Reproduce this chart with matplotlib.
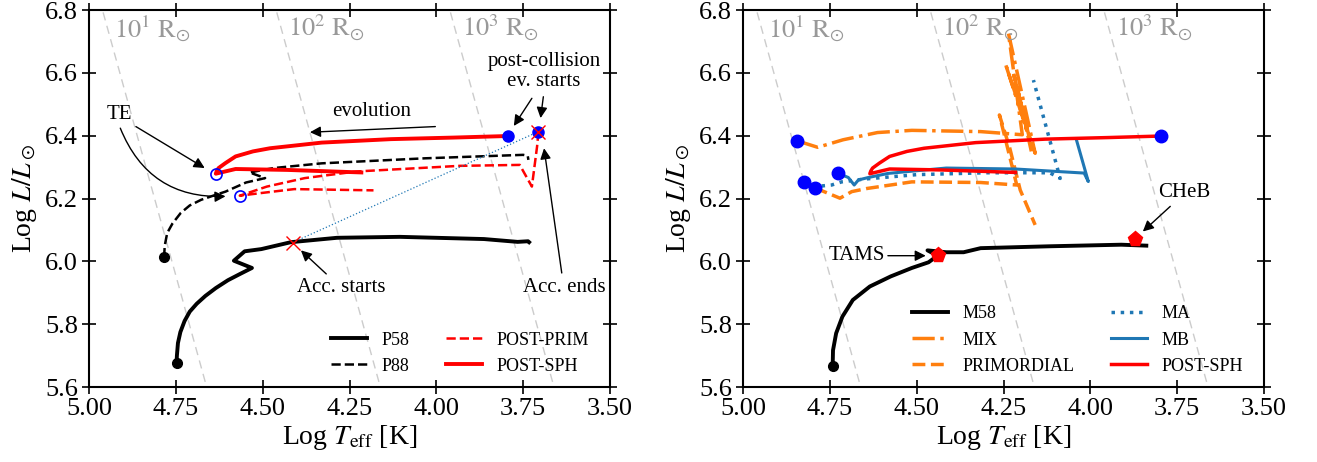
import numpy as np
import matplotlib
matplotlib.use("Agg")
import matplotlib.pyplot as plt
from matplotlib.ticker import FormatStrFormatter, MultipleLocator

plt.rcParams['font.family'] = 'serif'
plt.rcParams['font.serif'] = ['Liberation Serif', 'DejaVu Serif']
plt.rcParams['mathtext.fontset'] = 'stix'

# ---- left panel data (log Teff, log L) ----
p58_T = [4.748, 4.747, 4.744, 4.737, 4.725, 4.710, 4.690, 4.665, 4.635, 4.600,
         4.565, 4.531, 4.583, 4.552, 4.504, 4.419, 4.286, 4.105, 3.863, 3.766,
         3.736, 3.733]
p58_L = [5.675, 5.700, 5.740, 5.775, 5.810, 5.840, 5.865, 5.890, 5.915, 5.940,
         5.960, 5.979, 6.002, 6.032, 6.039, 6.061, 6.075, 6.078, 6.071, 6.062,
         6.064, 6.061]

p88_T = [4.784, 4.782, 4.775, 4.760, 4.736, 4.710, 4.677, 4.640, 4.607, 4.548,
         4.493, 4.538, 4.468, 4.330, 4.033, 3.750, 3.737, 3.735]
p88_L = [6.013, 6.050, 6.090, 6.120, 6.154, 6.178, 6.196, 6.210, 6.222, 6.251,
         6.265, 6.283, 6.297, 6.312, 6.328, 6.339, 6.336, 6.323]

prim_T = [3.706, 3.710, 3.725, 3.760, 3.933, 4.231, 4.379, 4.488, 4.566,
          4.508, 4.409, 4.181]
prim_L = [6.413, 6.366, 6.238, 6.307, 6.304, 6.286, 6.265, 6.238, 6.209,
          6.217, 6.230, 6.226]

sph_T = [3.794, 3.950, 4.131, 4.330, 4.479, 4.528, 4.578, 4.607, 4.627, 4.632,
         4.635, 4.578, 4.429, 4.216]
sph_L = [6.399, 6.394, 6.389, 6.378, 6.360, 6.350, 6.334, 6.313, 6.297, 6.288,
         6.279, 6.294, 6.291, 6.283]

acc_T = [4.414, 3.706]
acc_L = [6.060, 6.413]
te_T = [4.635, 4.566]
te_L = [6.279, 6.209]

# ---- right panel data ----
m58_T = [4.742, 4.741, 4.732, 4.714, 4.684, 4.635, 4.575, 4.514, 4.466, 4.440,
         4.469, 4.415, 4.365, 4.316, 4.117, 3.911, 3.839]
m58_L = [5.666, 5.717, 5.771, 5.824, 5.877, 5.920, 5.952, 5.979, 5.997, 6.018,
         6.035, 6.029, 6.029, 6.042, 6.048, 6.053, 6.050]

mix_T = [4.845, 4.785, 4.712, 4.613, 4.514, 4.316, 4.196, 4.236, 4.159, 4.245,
         4.174, 4.222, 4.183, 4.210, 4.170]
mix_L = [6.384, 6.363, 6.387, 6.410, 6.417, 6.413, 6.403, 6.726, 6.344, 6.630,
         6.386, 6.600, 6.420, 6.550, 6.350]

pri_T = [4.793, 4.721, 4.687, 4.643, 4.514, 4.316, 4.212, 4.262, 4.232, 4.202, 4.159]
pri_L = [6.234, 6.201, 6.222, 6.232, 6.253, 6.251, 6.243, 6.466, 6.360, 6.227, 6.116]

ma_T = [4.824, 4.793, 4.745, 4.716, 4.650, 4.500, 4.300, 4.117, 4.087, 4.164]
ma_L = [6.253, 6.238, 6.243, 6.253, 6.262, 6.276, 6.282, 6.282, 6.264, 6.577]

mb_T = [4.727, 4.697, 4.680, 4.668, 4.639, 4.582, 4.505, 4.415, 4.216, 4.018, 4.006, 4.040]
mb_L = [6.280, 6.267, 6.243, 6.259, 6.267, 6.280, 6.288, 6.297, 6.294, 6.281, 6.254, 6.386]

start_T = [4.845, 4.824, 4.793, 4.727, 3.798]
start_L = [6.384, 6.253, 6.234, 6.280, 6.399]
phase_T = [4.438, 3.871]
phase_L = [6.021, 6.071]

radii = [10, 100, 1000]
radius_labels = [r'$10^1\ \mathrm{R}_{\odot}$', r'$10^2\ \mathrm{R}_{\odot}$', r'$10^3\ \mathrm{R}_{\odot}$']

ORANGE = '#ff7f0e'
TBLUE = '#1f77b4'

fig = plt.figure(figsize=(13.17, 4.62), dpi=100)
ax1 = fig.add_axes([0.0676, 0.1623, 0.3956, 0.816])
ax2 = fig.add_axes([0.5642, 0.1623, 0.3956, 0.816])


def radius_lines(ax):
    tt = np.linspace(5.2, 3.3, 50)
    for r, lab in zip(radii, radius_labels):
        ll = 2 * np.log10(r) + 4 * (tt - np.log10(5772))
        ax.plot(tt, ll, color='#cccccc', lw=1, ls=(0, (6, 4)), zorder=0)
        t_top = (6.8 - 2 * np.log10(r)) / 4 + np.log10(5772)
        ax.text(t_top - 0.034, 6.742, lab, color='#999999', fontsize=19,
                ha='left', va='center')


def style(ax):
    ax.set_xlim(5.0, 3.5)
    ax.set_ylim(5.6, 6.8)
    ax.xaxis.set_major_locator(MultipleLocator(0.25))
    ax.yaxis.set_major_locator(MultipleLocator(0.2))
    ax.xaxis.set_major_formatter(FormatStrFormatter('%.2f'))
    ax.yaxis.set_major_formatter(FormatStrFormatter('%.1f'))
    ax.tick_params(direction='inout', length=10, width=1.2, labelsize=19,
                   top=True, right=True, pad=3)
    for s in ax.spines.values():
        s.set_linewidth(1.5)
    ax.set_xlabel(r'Log $T_{\rm eff}$ [K]', fontsize=20, labelpad=2)
    ax.set_ylabel(r'Log $L/L_\odot$', fontsize=20, labelpad=4)


def arrow(ax, tail, head, rad=0.0):
    ax.annotate('', xy=head, xytext=tail,
                arrowprops=dict(arrowstyle='-|>', color='black', lw=1,
                                mutation_scale=16, shrinkA=0, shrinkB=0,
                                connectionstyle='arc3,rad=%s' % rad))


# ---------------- left ----------------
radius_lines(ax1)
ax1.plot(p58_T, p58_L, color='black', lw=2.8, label='P58')
ax1.plot(p88_T, p88_L, color='black', lw=1.8, ls='--', label='P88')
ax1.plot(prim_T, prim_L, color='red', lw=1.8, ls='--', label='POST-PRIM')
ax1.plot(sph_T, sph_L, color='red', lw=2.8, label='POST-SPH')
ax1.plot(acc_T, acc_L, color=TBLUE, lw=0.9, ls=':')
ax1.plot([p58_T[0], p88_T[0]], [p58_L[0], p88_L[0]], 'o', color='black', ms=7, ls='none')
ax1.plot([sph_T[0], acc_T[1]], [sph_L[0], acc_L[1]], 'o', color='blue', ms=8, ls='none')
ax1.plot(te_T, te_L, 'o', mfc='none', mec='blue', mew=1.2, ms=8, ls='none')
ax1.plot(acc_T, acc_L, 'x', color='red', ms=10, mew=1.0, ls='none', zorder=5)

ax1.text(4.913, 6.466, 'TE', fontsize=15, ha='center', va='center')
arrow(ax1, (4.865, 6.429), (4.667, 6.297))
arrow(ax1, (4.910, 6.424), (4.607, 6.207), rad=0.35)
ax1.text(4.186, 6.477, 'evolution', fontsize=15, ha='center', va='center')
arrow(ax1, (4.003, 6.429), (4.364, 6.411))
ax1.text(3.69, 6.604, 'post-collision\nev. starts', fontsize=15, ha='center',
         va='center', linespacing=1.1)
arrow(ax1, (3.725, 6.519), (3.777, 6.431))
arrow(ax1, (3.692, 6.524), (3.700, 6.456))
ax1.text(4.274, 5.918, 'Acc. starts', fontsize=15, ha='center', va='center')
arrow(ax1, (4.317, 5.960), (4.390, 6.035))
ax1.text(3.633, 5.918, 'Acc. ends', fontsize=15, ha='center', va='center')
arrow(ax1, (3.639, 5.963), (3.690, 6.360))

ax1.legend(loc='lower right', ncol=2, frameon=False, fontsize=13,
           bbox_to_anchor=(0.99, -0.01))
style(ax1)

# ---------------- right ----------------
radius_lines(ax2)
ax2.plot(m58_T, m58_L, color='black', lw=2.8, label='M58')
ax2.plot(mix_T, mix_L, color=ORANGE, lw=2.5, ls='-.', label='MIX')
ax2.plot(pri_T, pri_L, color=ORANGE, lw=2.5, ls='--', label='PRIMORDIAL')
ax2.plot(ma_T, ma_L, color=TBLUE, lw=2.5, ls=':', label='MA')
ax2.plot(mb_T, mb_L, color=TBLUE, lw=2.2, label='MB')
ax2.plot(sph_T, sph_L, color='red', lw=2.5, label='POST-SPH')
ax2.plot(m58_T[0], m58_L[0], 'o', color='black', ms=7)
ax2.plot(start_T, start_L, 'o', color='blue', ms=9, ls='none', zorder=5)
ax2.plot(phase_T, phase_L, 'p', color='red', ms=11, ls='none', zorder=5)

ax2.text(4.673, 6.018, 'TAMS', fontsize=15, ha='center', va='center')
arrow(ax2, (4.583, 6.018), (4.474, 6.018))
ax2.text(3.73, 6.219, 'CHeB', fontsize=15, ha='center', va='center')
arrow(ax2, (3.770, 6.175), (3.849, 6.095))

ax2.legend(loc='lower right', ncol=2, frameon=False, fontsize=13,
           bbox_to_anchor=(0.99, -0.01))
style(ax2)

fig.savefig('out.png', dpi=100)
